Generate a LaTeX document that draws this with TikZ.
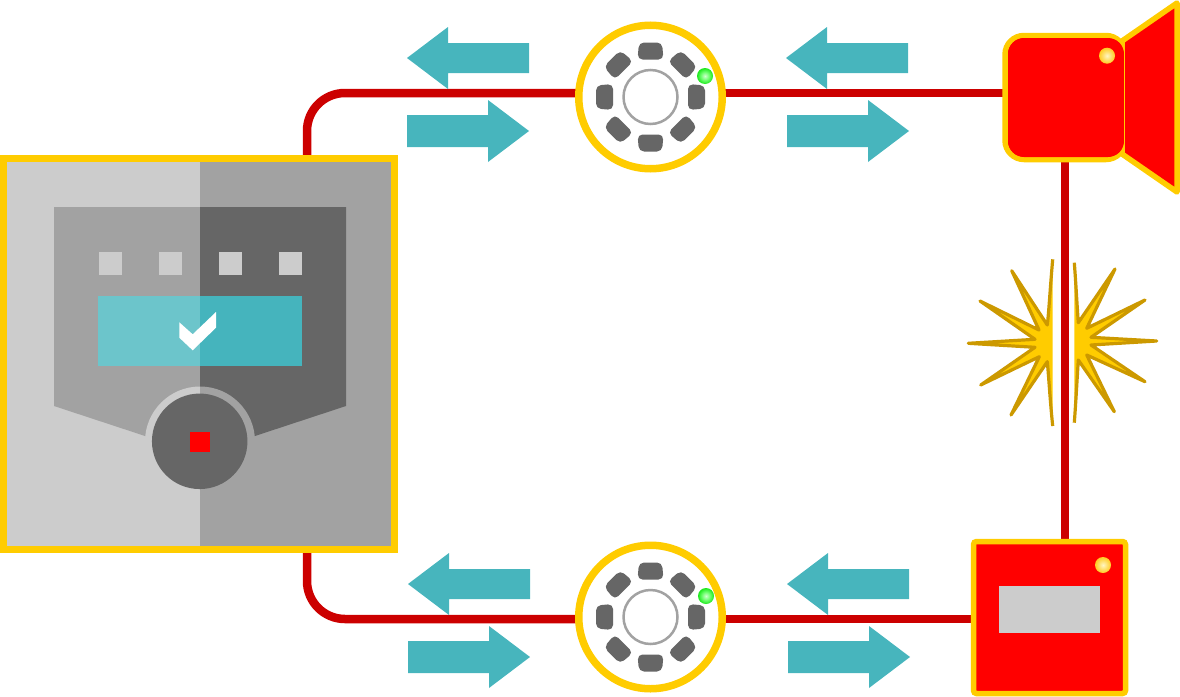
\documentclass[tikz,border=0pt]{standalone}
\usetikzlibrary{backgrounds}
\definecolor{wirered}{HTML}{CC0000}
\definecolor{rimgold}{HTML}{FFCC00}
\definecolor{sparkedge}{HTML}{CC9900}
\definecolor{flowteal}{HTML}{47B5BD}
\definecolor{lightgrey}{HTML}{CCCCCC}
\definecolor{midgrey}{HTML}{A2A2A2}
\definecolor{darkgrey}{HTML}{666666}
\definecolor{screenleft}{HTML}{6CC5CB}
\definecolor{screenright}{HTML}{45B4BD}
\definecolor{ledred}{HTML}{FF0000}
\definecolor{greencore}{HTML}{D0FFD0}
\definecolor{greenmid}{HTML}{70FF70}
\definecolor{greenrim}{HTML}{1CE81C}
\definecolor{ambercore}{HTML}{FFF6C4}
\definecolor{ambermid}{HTML}{FFE070}
\definecolor{amberrim}{HTML}{FFCC22}
\pgfdeclareradialshading{greenglow}{\pgfpoint{0bp}{0bp}}{
  color(0bp)=(greencore);
  color(12.5bp)=(greenmid);
  color(25bp)=(greenrim);
  color(50bp)=(greenrim)}
\pgfdeclareradialshading{amberglow}{\pgfpoint{0bp}{0bp}}{
  color(0bp)=(ambercore);
  color(12.5bp)=(ambermid);
  color(25bp)=(amberrim);
  color(50bp)=(amberrim)}
\tikzset{
  wire/.style={draw=wirered,line width=8.5pt},
  flow/.style={fill=flowteal},
  greenled/.style={shading=greenglow},
  amberled/.style={shading=amberglow},
  spark/.style={fill=rimgold},
  sparkline/.style={draw=sparkedge,line width=3.2pt,line join=round},
  pics/leftflow/.style={code={
    \fill[flow] (0,0)--(41,-31)--(41,-15)--(122,-15)--(122,15)--(41,15)--(41,31)--cycle;}},
  pics/rightflow/.style={code={
    \fill[flow] (122,0)--(81,-31)--(81,-16)--(0,-16)--(0,16)--(81,16)--(81,31)--cycle;}},
  pics/detector/.style={code={
    \node (-body) [circle,draw=rimgold,fill=white,line width=7.5pt,
                   minimum size=143.5pt,inner sep=0pt] at (0,0) {};
    \foreach \a in {0,45,...,315}{
      \fill[darkgrey,rotate=\a,rounded corners=5pt]
        (-13,-37.5)--(-11.5,-54.5)--(11.5,-54.5)--(13,-37.5)--cycle;}
    \draw[midgrey,line width=2.5pt] (0,0) circle (27);
  }},
}
\begin{document}
\begin{tikzpicture}[x=1pt,y=-1pt]
\useasboundingbox (0,0) rectangle (1180,696);

% Control panel
\node (panel) [rectangle,minimum width=398pt,minimum height=397pt,inner sep=0pt] at (199,353.5) {};
\fill[lightgrey] (0,155) rectangle (200,552);
\fill[midgrey] (200,155) rectangle (398,552);
\fill[midgrey] (54,207)--(200,207)--(200,460)--(145,436)--(54,406)--cycle;
\fill[darkgrey] (200,207)--(346,207)--(346,406)--(255,436)--(200,460)--cycle;
\fill[screenleft] (98,296) rectangle (200,366);
\fill[screenright] (200,296) rectangle (302,366);
\fill[white] (179.3,322.3)--(179.3,337.7)--(192.7,350.3)--(216,327.7)--(216,312)--(192.7,334.3)--cycle;
\foreach \sx in {99,159,219,279}
  \fill[lightgrey] (\sx,252) rectangle ++(23,23);
\fill[lightgrey] (200,386.5) arc (270:90:55) -- cycle;
\fill[midgrey] (200,386.5) arc (270:450:55) -- cycle;
\node (knob) [circle,fill=darkgrey,minimum size=95.5pt,inner sep=0pt] at (199.7,441.3) {};
\fill[ledred] (190,432) rectangle (210,452);
\draw[rimgold,line width=7pt] (3.5,158.5) rectangle (394.5,549);

% Ring detectors
\pic (detA) at (650.5,97) {detector};
\shade[greenled] (705,76) circle (8);
\pic (detB) at (650.5,617) {detector};
\shade[greenled] (706,596) circle (8);

% Sounder: body with a flared horn
\node (sounder) [rectangle,rounded corners=19pt,draw=rimgold,fill=ledred,line width=5.5pt,
                 minimum width=120pt,minimum height=124pt,inner sep=0pt] at (1065,97.5) {};
\fill[ledred,rounded corners=16pt] (1008,38) rectangle (1124,157);
\fill[ledred] (1125,41)--(1177,3)--(1177,192)--(1125,154)--cycle;
\draw[rimgold,line width=5.5pt,line join=round] (1122,41)--(1177,3)--(1177,192)--(1122,154);
\fill[ledred] (1125,44) rectangle (1130,151);
\draw[rimgold,line width=1pt] (1124.5,40)--(1124.5,155);
\shade[amberled] (1107,55.7) circle (8);

% Manual call point
\node (callpt) [rectangle,rounded corners=3pt,draw=rimgold,fill=ledred,line width=5.5pt,
                minimum width=152pt,minimum height=152pt,inner sep=0pt] at (1049.5,617.5) {};
\fill[lightgrey] (999,586) rectangle (1100,633);
\shade[amberled] (1103,565) circle (8);

% Break in the loop: the two halves of the spark
\path[spark] (1052.7,325)--(1052.7,259.3)--(1047.3,325)--(1011.7,270.7)--(1039,330)--(980,301)--(1035,339.3)--(968.3,343.3)--(1035,347.3)--(980.7,385)--(1039.3,356.7)--(1011,415)--(1047.3,361.7)--(1052.7,426)--(1052.7,361.7)--cycle;
\draw[sparkline] (1052.7,259.3)..controls (1050,290) and (1049,310)..(1047.3,325)--(1011.7,270.7)--(1039,330)--(980,301)--(1035,339.3)--(968.3,343.3)--(1035,347.3)--(980.7,385)--(1039.3,356.7)--(1011,415)--(1047.3,361.7)..controls (1049,380) and (1050,400)..(1052.7,426);
\path[spark] (1074.3,322)--(1074.3,262.7)--(1078.3,322.7)--(1115,269)--(1086.7,328.3)--(1145,300)--(1091,337.3)--(1156.7,341)--(1091,345)--(1145,381.7)--(1086.7,355)--(1114.3,411.7)--(1078.3,360)--(1074.3,422.7)--(1074.3,360)--cycle;
\draw[sparkline] (1074.3,262.7)..controls (1076,285) and (1077,305)..(1078.3,322.7)--(1115,269)--(1086.7,328.3)--(1145,300)--(1091,337.3)--(1156.7,341)--(1091,345)--(1145,381.7)--(1086.7,355)--(1114.3,411.7)--(1078.3,360)..controls (1077,380) and (1076,400)..(1074.3,422.7);

% Flow direction arrows
\pic at (407,58) {leftflow};
\pic at (407,131) {rightflow};
\pic at (786,58) {leftflow};
\pic at (787,131) {rightflow};
\pic at (408,584) {leftflow};
\pic at (408,657) {rightflow};
\pic at (787,584) {leftflow};
\pic at (788,657) {rightflow};

% Loop wiring, kept behind the devices
\coordinate (cornerTop) at (307,93);
\coordinate (cornerBot) at (307,619);
\begin{pgfonlayer}{background}
  \draw[wire,rounded corners=38pt] (panel.north -| cornerTop)--(cornerTop)--(cornerTop -| detA-body.center);
  \draw[wire] (cornerTop -| detA-body.center)--(cornerTop -| sounder.center);
  \draw[wire] (sounder.center)--(sounder.center |- callpt.center);
  \draw[wire] (cornerBot -| callpt.center)--(cornerBot -| detB-body.center);
  \draw[wire,rounded corners=38pt] (cornerBot -| detB-body.center)--(cornerBot)--(panel.south -| cornerBot);
\end{pgfonlayer}
\end{tikzpicture}
\end{document}
